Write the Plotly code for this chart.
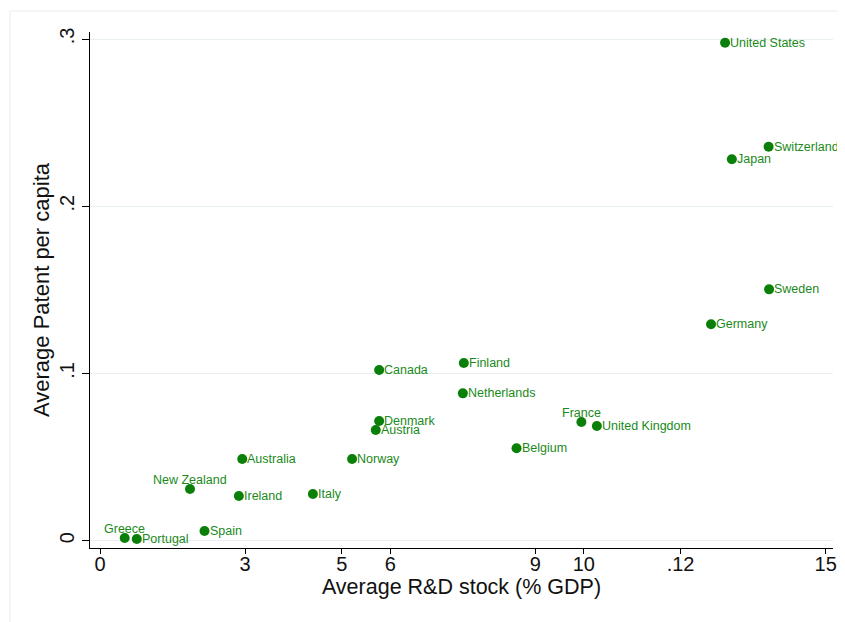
import plotly.graph_objects as go

countries = ["United States", "Switzerland", "Japan", "Sweden", "Germany",
             "Finland", "Canada", "Netherlands", "Denmark", "Austria",
             "France", "United Kingdom", "Belgium", "Norway", "Australia",
             "New Zealand", "Ireland", "Italy", "Spain", "Greece", "Portugal"]
rd_stock = [12.92, 13.82, 13.06, 13.83, 12.63,
            7.52, 5.77, 7.50, 5.77, 5.70,
            9.95, 10.27, 8.61, 5.21, 2.94,
            1.86, 2.87, 4.40, 2.16, 0.51, 0.76]
patents = [0.2978, 0.2356, 0.2281, 0.1503, 0.1294,
           0.1063, 0.1021, 0.0881, 0.0716, 0.0662,
           0.0710, 0.0686, 0.0553, 0.0489, 0.0489,
           0.0309, 0.0267, 0.0279, 0.0058, 0.0016, 0.0010]
top_labels = ["France", "New Zealand", "Greece"]

x_tickvals = [0, 3, 5, 6, 9, 10, 12, 15]
x_ticktext = ["0", "3", "5", "6", "9", "10", ".12", "15"]
y_tickvals = [0, 0.1, 0.2, 0.3]
y_ticktext = ["0", ".1", ".2", ".3"]

GREEN = "#0a800a"
FONT = "Liberation Sans, Arial, sans-serif"

fig = go.Figure()
fig.add_trace(go.Scatter(
    x=rd_stock, y=patents, mode="markers",
    marker=dict(size=10, color=GREEN),
    cliponaxis=False, showlegend=False, hoverinfo="skip",
))

for name, xv, yv in zip(countries, rd_stock, patents):
    if name in top_labels:
        fig.add_annotation(x=xv, y=yv, text=name, showarrow=False,
                           xanchor="center", yanchor="bottom", yshift=0,
                           font=dict(family=FONT, size=12.5, color="#1a8a1a"))
    else:
        fig.add_annotation(x=xv, y=yv, text=name, showarrow=False,
                           xanchor="left", yanchor="middle", xshift=3,
                           font=dict(family=FONT, size=12.5, color="#1a8a1a"))

fig.update_layout(
    width=845, height=622,
    margin=dict(l=82, r=20, t=24, b=82),
    paper_bgcolor="white", plot_bgcolor="white",
    font=dict(family=FONT, color="black"),
    xaxis=dict(
        range=[-0.207, 15.151], tickvals=x_tickvals, ticktext=x_ticktext,
        showgrid=False, zeroline=False, showline=True, linecolor="black", linewidth=1,
        ticks="outside", ticklen=5, tickcolor="black", ticklabelstandoff=-7,
        tickfont=dict(size=20, family=FONT, color="#111"),
        title=dict(text="Average R&D stock (% GDP)", font=dict(size=21.5, family=FONT, color="#111"), standoff=0),
    ),
    yaxis=dict(
        range=[-0.00437, 0.30419], tickvals=y_tickvals, ticktext=y_ticktext,
        showgrid=True, gridcolor="#e8eff1", gridwidth=1, zeroline=False,
        showline=True, linecolor="black", linewidth=1,
        ticks="outside", ticklen=7, tickcolor="black", tickangle=-90,
        tickfont=dict(size=20, family=FONT, color="#111"),
        title=dict(text="Average Patent per capita", font=dict(size=22, family=FONT, color="#111"), standoff=0),
    ),
)

# faint outer graph-region border (top and left edges visible)
fig.add_shape(type="line", xref="paper", yref="paper",
              x0=(10 - 90) / 743, x1=1.1, y0=(548 - 11) / 516, y1=(548 - 11) / 516,
              line=dict(color="#e6eded", width=1))
fig.add_shape(type="line", xref="paper", yref="paper",
              x0=(10 - 90) / 743, x1=(10 - 90) / 743, y0=(548 - 11) / 516, y1=-0.2,
              line=dict(color="#e6eded", width=1))

fig.write_html("out.html")
